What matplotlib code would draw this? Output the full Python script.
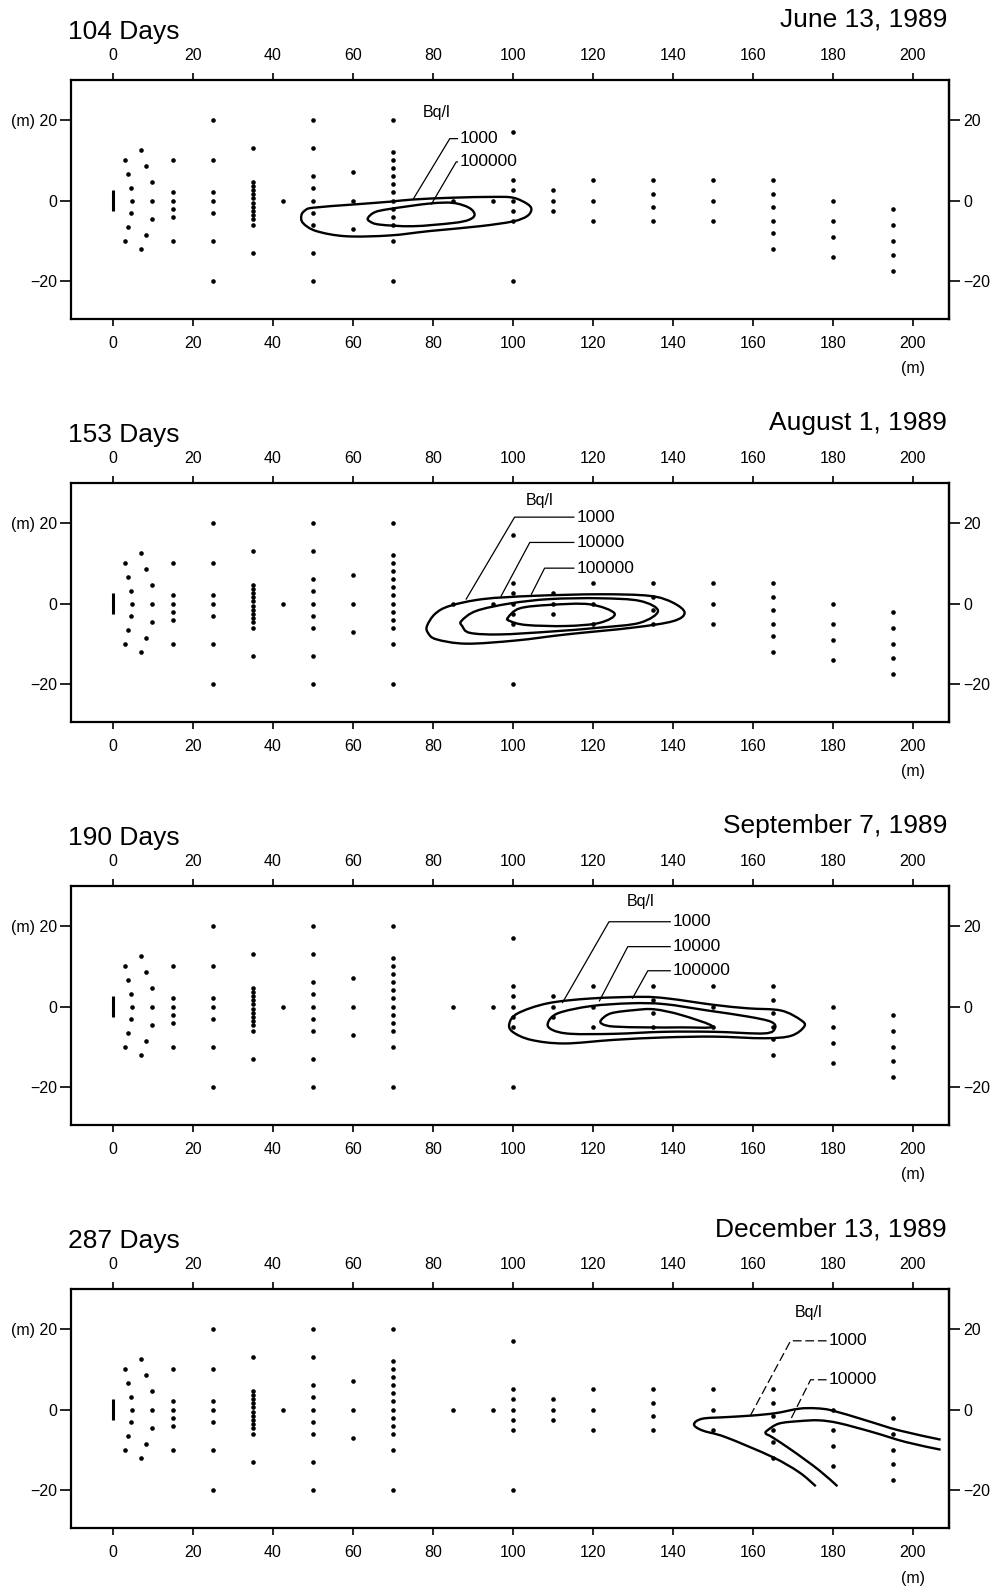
import numpy as np
import matplotlib.pyplot as plt
from matplotlib.path import Path
from matplotlib.patches import PathPatch

plt.rcParams['font.family'] = ['Liberation Sans', 'DejaVu Sans']

# ---- well network (same in every panel) ----
fan_x = [3, 3.8, 4.4, 4.8, 4.4, 3.8, 3, 7, 8.3, 9.7, 9.8, 9.7, 8.3, 7]
fan_y = [10, 6.5, 3, 0, -3, -6.5, -10, 12.5, 8.5, 4.5, 0, -4.5, -8.5, -12]
col_x = [15, 25, 35, 42.5, 50, 60, 70, 85, 95, 100, 110, 120, 135, 150, 165, 180, 195]
col_y = [
    [10, 2, 0, -2, -4, -10],
    [20, 10, 2, 0, -3, -10, -20],
    [13, 4.5, 3.5, 2.5, 1.5, 0.5, -0.5, -1.5, -2.5, -3.5, -4.5, -6, -13],
    [0],
    [20, 13, 6, 3, 0, -3, -6, -13, -20],
    [7, 0, -7],
    [20, 12, 10, 8, 6, 4, 2, 0, -2, -4, -6, -10, -20],
    [0],
    [0],
    [17, 5, 2.5, 0, -2.5, -5, -20],
    [2.5, 0, -2.5],
    [5, 0, -5],
    [5, 1.5, -1.5, -5],
    [5, 0, -5],
    [5, 1.5, -1.5, -5, -8, -12],
    [0, -5, -9, -14],
    [-2, -6, -10, -13.5, -17.5],
]
source_y = [-2.5, 2.5]

days = ['104 Days', '153 Days', '190 Days', '287 Days']
dates = ['June 13, 1989', 'August 1, 1989', 'September 7, 1989', 'December 13, 1989']

# ---- contours (Bq/l) ----
p1_1000_x = [47.1, 48.0, 50, 60, 69.2, 75, 85, 95, 100, 103.5, 104.6, 103.5, 100, 91.7, 79.2, 69.2, 58.3, 50.8, 47.5]
p1_1000_y = [-3.7, -2.5, -1.8, -1.0, -0.3, 0.25, 0.7, 0.9, 0.7, -0.8, -2.2, -3.9, -5.2, -6.4, -7.6, -8.7, -8.9, -7.6, -5.6]
p1_1e5_x = [63.75, 65.5, 69.2, 79.2, 85, 89, 90.4, 89, 85, 75, 66.7, 64.2]
p1_1e5_y = [-4.3, -2.9, -2.1, -0.75, -0.6, -1.8, -3.5, -4.8, -5.6, -6.4, -6.0, -5.2]

p2_1000_x = [78.5, 80.5, 84.2, 92.5, 105, 121.7, 134.2, 140, 142.9, 140, 130, 113.3, 100.8, 88.3, 80.8, 78.75]
p2_1000_y = [-5.6, -2.6, -0.6, 1.1, 1.9, 2.3, 1.9, 0.2, -2.3, -4.4, -6.0, -7.7, -9.2, -10.0, -8.9, -7.3]
p2_1e4_x = [87.1, 90.8, 99.2, 109.2, 121.7, 131.7, 136.25, 131.7, 121.7, 109.2, 96.7, 89.2, 87.3]
p2_1e4_y = [-4.35, -1.85, 0, 1.1, 1.3, 0.65, -1.85, -4.8, -6.0, -7.0, -7.7, -7.3, -5.6]
p2_1e5_x = [98.75, 101.7, 109.2, 119.2, 125.4, 121.7, 113.3, 103.3, 99.2]
p2_1e5_y = [-3.5, -1.2, -0.35, -0.2, -2.5, -4.8, -5.6, -5.35, -4.35]

p3_1000_x = [99.1, 101.2, 108.7, 119.5, 132, 138.7, 150.3, 158.7, 167, 172, 172.8, 169.5, 162.8, 150.3, 137.8, 125.3, 112.8, 104.5, 99.9]
p3_1000_y = [-4.2, -1.7, 0.8, 2.0, 2.4, 2.0, 0.4, -0.45, -1.0, -3.4, -5.0, -7.3, -7.9, -7.5, -7.7, -8.3, -9.2, -8.3, -6.3]
p3_1e4_x = [108.7, 111.2, 119.5, 129.5, 137.8, 148.7, 158.7, 164.5, 165.5, 162.8, 150.3, 137.8, 125.3, 114.5, 109.9]
p3_1e4_y = [-4.2, -1.7, 0.1, 0.8, 0.6, -1.0, -2.5, -3.8, -5.4, -6.7, -6.3, -6.3, -6.8, -6.8, -5.85]
p3_1e5_x = [122, 124.5, 130.3, 135.3, 142, 149.9, 142, 133.7, 125.3, 122.4]
p3_1e5_y = [-3.4, -1.7, -0.9, -0.7, -2.1, -5.0, -5.2, -5.2, -5.0, -4.4]

p4_1000_x = [175.7, 171.5, 164.8, 153.2, 147.3, 145.25, 147.3, 153.2, 159.8, 165.7, 171.5, 175.7, 179.8, 188.2, 196.5, 206.9]
p4_1000_y = [-19.1, -15.6, -11.8, -6.9, -5.2, -3.7, -2.3, -1.9, -1.5, -0.9, 0.2, 0.3, -0.25, -2.7, -5.2, -7.5]
p4_1e4_x = [181.1, 176.5, 169.8, 164.8, 163.2, 163.6, 166.5, 171.5, 176.5, 181.5, 189.8, 198.2, 206.9]
p4_1e4_y = [-19.1, -15.1, -10.2, -6.9, -6.0, -5.2, -3.5, -2.9, -2.7, -3.4, -5.6, -8.1, -10.0]

contours = [
    [(p1_1000_x, p1_1000_y, True), (p1_1e5_x, p1_1e5_y, True)],
    [(p2_1000_x, p2_1000_y, True), (p2_1e4_x, p2_1e4_y, True), (p2_1e5_x, p2_1e5_y, True)],
    [(p3_1000_x, p3_1000_y, True), (p3_1e4_x, p3_1e4_y, True), (p3_1e5_x, p3_1e5_y, True)],
    [(p4_1000_x, p4_1000_y, False), (p4_1e4_x, p4_1e4_y, False)],
]

# labels: text, label x, label y, elbow x, contour x, contour y
bq_pos = [(80.8, 21.8), (106.7, 25.7), (132, 26.1), (174, 24.1)]
labels = [
    [('1000', 86.7, 15.4, 84.2, 75, 0.25), ('100000', 86.7, 9.6, 85.8, 79.6, -0.9)],
    [('1000', 115.8, 21.5, 100.4, 88.3, 1.1), ('10000', 115.8, 15.2, 104.2, 97.0, 1.8),
     ('100000', 115.8, 8.8, 107.9, 104.6, 2.3)],
    [('1000', 139.9, 21.1, 124, 112.4, 1.0), ('10000', 139.9, 14.9, 128.7, 121.6, 1.4),
     ('100000', 139.9, 8.9, 133.7, 129.9, 2.1)],
    [('1000', 179, 17.1, 169.4, 159.4, -1.4), ('10000', 179, 7.4, 174.4, 169.4, -2.5)],
]


def smooth_curve(ax, xs, ys, closed):
    # pass a smooth (Catmull-Rom as cubic Bezier) line through the read-off vertices
    p = np.column_stack([xs, ys]).astype(float)
    n = len(p)
    if closed:
        idx = lambda k: p[k % n]
        segs = n
    else:
        idx = lambda k: p[min(max(k, 0), n - 1)]
        segs = n - 1
    verts = [p[0]]
    codes = [Path.MOVETO]
    for i in range(segs):
        p0, p1, p2, p3 = idx(i - 1), idx(i), idx(i + 1), idx(i + 2)
        verts += [p1 + (p2 - p0) / 6, p2 - (p3 - p1) / 6, p2]
        codes += [Path.CURVE4] * 3
    ax.add_patch(PathPatch(Path(verts, codes), fill=False, lw=1.7, ec='k', joinstyle='round'))


tops_px = [80, 483, 886, 1289]
W, H = 999, 1586
fig = plt.figure(figsize=(W / 100, H / 100), dpi=100)

for i in range(4):
    top = tops_px[i]
    ax = fig.add_axes([71 / W, 1 - (top + 239) / H, 878 / W, 239 / H])
    ax.set_xlim(-10.5, 209)
    ax.set_ylim(-29.5, 30)
    for s in ax.spines.values():
        s.set_linewidth(1.6)

    # wells
    ax.plot([0, 0], source_y, color='k', lw=2.2, solid_capstyle='butt')
    ax.plot(fan_x, fan_y, 'o', color='k', ms=3.3, mew=0)
    for cx, cys in zip(col_x, col_y):
        ax.plot([cx] * len(cys), cys, 'o', color='k', ms=3.3, mew=0)

    # contours
    for cx, cy, closed in contours[i]:
        smooth_curve(ax, cx, cy, closed)

    # labels
    ax.text(bq_pos[i][0], bq_pos[i][1], 'Bq/l', ha='center', va='center', fontsize=11.5)
    ls = (0, (7, 3)) if i == 3 else '-'
    for txt, lx, ly, ex, px, py in labels[i]:
        ax.text(lx, ly, txt, ha='left', va='center', fontsize=12.5)
        ax.plot([lx - 0.6, ex, px], [ly, ly, py], color='k', lw=0.9, ls=ls)

    # ticks
    ax.set_xticks(range(0, 201, 20))
    ax.set_xticklabels([str(v) for v in range(0, 201, 20)])
    ax.tick_params(axis='x', top=True, labeltop=True, direction='out', length=5,
                   width=1.2, labelsize=11.5, pad=7)
    ax.set_yticks([-20, 0, 20])
    ax.set_yticklabels(['\u221220', '0', '(m) 20'])
    ax.tick_params(axis='y', direction='out', length=8, width=1.2, labelsize=11.5, pad=2)
    sec = ax.secondary_yaxis('right')
    sec.set_yticks([-20, 0, 20])
    sec.set_yticklabels(['\u221220', '0', '20'])
    sec.tick_params(direction='out', length=8, width=1.2, labelsize=11.5, pad=2)
    sec.spines['right'].set_linewidth(1.6)

    ax.annotate('(m)', xy=(200, 0), xycoords=('data', 'axes fraction'), xytext=(0, -36),
                textcoords='offset points', ha='center', va='center', fontsize=11.5)

    fig.text(68 / W, 1 - (top - 41) / H, days[i], ha='left', va='baseline', fontsize=19)
    fig.text(947 / W, 1 - (top - 53) / H, dates[i], ha='right', va='baseline', fontsize=19)

fig.savefig('out.png', dpi=100, facecolor='white')
